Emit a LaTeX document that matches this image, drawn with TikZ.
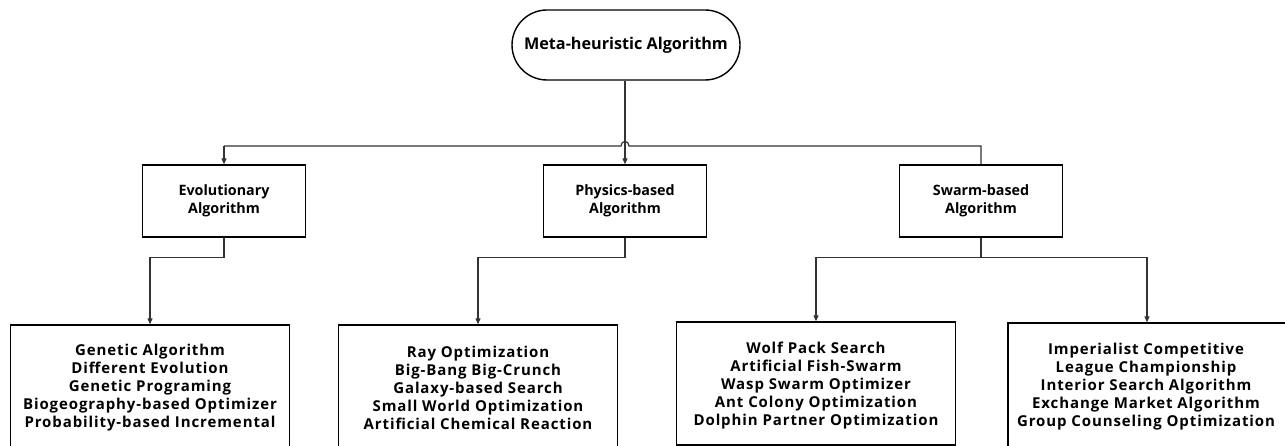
\documentclass[tikz,border=0pt]{standalone}
\usepackage{fontspec}
\setmainfont{Open Sans}
\usetikzlibrary{arrows.meta,shapes.misc}
\begin{document}
\begin{tikzpicture}[x=1pt,y=-1pt,
  conn/.style={draw=black!80,line width=1.2pt},
  arr/.style={conn,-{Triangle[length=6pt,width=5pt]}},
  catbox/.style={draw,line width=1.4pt,rectangle,minimum width=163pt,minimum height=72pt,inner sep=0pt,align=center,font=\fontsize{14.3}{18}\selectfont\bfseries},
  leaftext/.style={align=center,font=\fontsize{15}{18}\selectfont\bfseries\addfontfeature{LetterSpace=6}},
  leafbox/.style={draw,line width=1.4pt,rectangle,minimum width=279pt,inner sep=0pt,leaftext},
  rootbox/.style={draw,line width=1.4pt,rounded rectangle,minimum width=228pt,minimum height=70pt,inner sep=0pt,font=\fontsize{16.2}{18}\selectfont\bfseries}]
\useasboundingbox (0,0) rectangle (1285,446);
\node[rootbox] (root) at (626,45) {Meta-heuristic Algorithm};
\node[catbox] (evo) at (224,201) {Evolutionary\\Algorithm};
\node[catbox] (phy) at (625,201) {Physics-based\\Algorithm};
\node[catbox] (swa) at (981,201) {Swarm-based\\Algorithm};
\node[leafbox,minimum height=132pt] (l1) at (150,391) {};
\node[leaftext] (t1) at (l1.center |- 0,388) {Genetic Algorithm\\Different Evolution\\Genetic Programing\\Biogeography-based Optimizer\\Probability-based Incremental};
\node[leafbox,minimum height=132pt] (l2) at (478,391) {};
\node[leaftext] (t2) at (l2.center |- 0,388) {Ray Optimization\\Big-Bang Big-Crunch\\Galaxy-based Search\\Small World Optimization\\Artificial Chemical Reaction};
\node[leafbox,minimum height=123pt] (l3) at (816,383.5) {};
\node[leaftext] (t3) at (816,385.5) {Wolf Pack Search\\Artificial Fish-Swarm\\Wasp Swarm Optimizer\\Ant Colony Optimization\\Dolphin Partner Optimization};
\node[leafbox,minimum width=284pt,minimum height=132pt] (l4) at (1150,389) {};
\node[leaftext] (t4) at (1146,387) {Imperialist Competitive\\League Championship\\Interior Search Algorithm\\Exchange Market Algorithm\\Group Counseling Optimization};
\coordinate (hl) at (224,146);
\coordinate (hr) at (981,146);
\coordinate (ha) at (621,146);
\coordinate (hb) at (629,146);
\draw[arr] (root.south -| phy.north) -- (phy.north);
\draw[arr] (hl) -- (evo.north);
\draw[conn] (hl) -- (ha) .. controls (621,140) and (629,140) .. (hb) -- (hr) -- (swa.north);
\draw[arr] (evo.south) -- ++(0,20) -| (l1.north);
\draw[arr] (phy.south) -- ++(0,20) -| (l2.north);
\draw[arr] (swa.south) -- ++(0,20) -| (l3.north);
\draw[arr] (swa.south) -- ++(0,20) -| ([xshift=-3pt]l4.north);
\end{tikzpicture}
\end{document}
